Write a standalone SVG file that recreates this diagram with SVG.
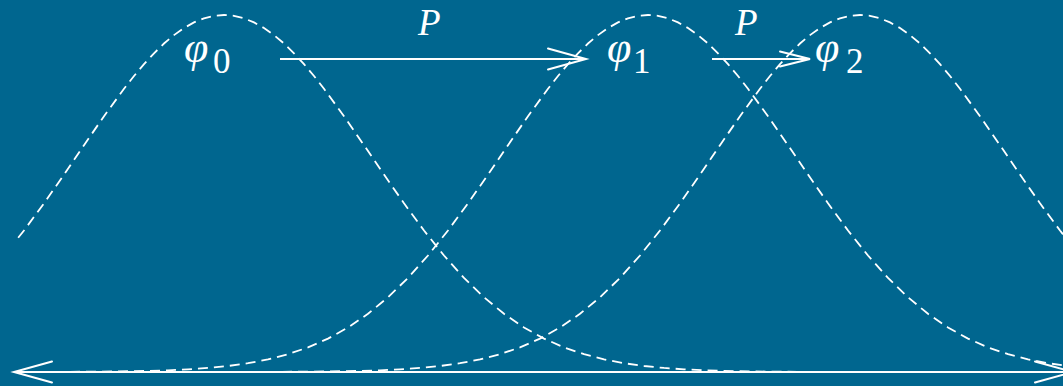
<svg xmlns="http://www.w3.org/2000/svg" width="1063" height="386" viewBox="0 0 1063 386">
<style>
.curve{fill:none;stroke:#fff;stroke-width:1.8;stroke-dasharray:10 6}
.arrow{fill:none;stroke:#fff;stroke-width:2}
.head{fill:none;stroke:#fff;stroke-width:2;stroke-linecap:round;stroke-linejoin:miter}
.it{font-family:"Liberation Serif",serif;font-style:italic;fill:#fff}
.num{font-family:"Liberation Serif",serif;fill:#fff}
</style>
<defs>
<path id="gauss" d="M-850,372 L-600,371.9 L-550,371.7 L-500,370.9 L-480,370.3 L-460,369.3 L-440,367.95 L-420,366 L-400,363.2 L-380,359.4 L-360,354.2 L-340,347.4 L-320,338.6 L-300,327.5 L-280,313.8 L-260,297.3 L-240,277.9 L-220,255.5 L-200,230.5 L-180,203.3 L-160,174.6 L-140,145.2 L-120,116.2 L-100,88.8 L-90,76 L-80,64.1 L-70,53.3 L-60,43.5 L-50,35.1 L-40,28 L-30,22.4 L-20,18.3 L-10,15.8 L0,15 L10,15.8 L20,18.3 L30,22.4 L40,28 L50,35.1 L60,43.5 L70,53.3 L80,64.1 L90,76 L100,88.8 L120,116.2 L140,145.2 L160,174.6 L180,203.3 L200,230.5 L220,255.5 L240,277.9 L260,297.3 L280,313.8 L300,327.5 L320,338.6 L340,347.4 L360,354.2 L380,359.4 L400,363.2 L420,366 L440,367.95 L460,369.3 L480,370.3 L500,370.9 L550,371.7 L600,371.9 L850,372"/>
<clipPath id="dom"><rect x="16" y="0" width="1047" height="386"/></clipPath>
<marker id="ah" markerUnits="userSpaceOnUse" markerWidth="44" markerHeight="26" refX="40" refY="12" orient="auto-start-reverse" viewBox="0 0 44 26">
<path class="head" d="M2,1.5 L40,12 L2,22.5"/>
</marker>
<marker id="ahs" markerUnits="userSpaceOnUse" markerWidth="36" markerHeight="22" refX="32" refY="10" orient="auto" viewBox="0 0 36 22">
<path class="head" d="M2,2.5 L32,10 L2,17.5"/>
</marker>
</defs>
<rect width="1063" height="386" fill="#00668F"/>
<g id="curves" clip-path="url(#dom)">
<use href="#gauss" class="curve" transform="translate(224,0)"/>
<use href="#gauss" class="curve" transform="translate(648,0)"/>
<use href="#gauss" class="curve" transform="translate(860,0)"/>
</g>
<g id="connectors">
<line class="arrow" x1="280" y1="59" x2="586" y2="59" marker-end="url(#ah)"/>
<line class="arrow" x1="712" y1="59" x2="810" y2="59" marker-end="url(#ahs)"/>
<line class="arrow" x1="14" y1="372" x2="1073" y2="372" marker-start="url(#ah)" marker-end="url(#ah)"/>
</g>
<g id="phi0"><text class="it" x="184" y="62" font-size="44">φ</text><text class="num" x="213" y="73" font-size="35">0</text></g>
<g id="phi1"><text class="it" x="607" y="62" font-size="44">φ</text><text class="num" x="633" y="73" font-size="35">1</text></g>
<g id="phi2"><text class="it" x="815" y="62" font-size="44">φ</text><text class="num" x="846" y="73" font-size="35">2</text></g>
<g id="labelP1"><text class="it" x="418" y="35" font-size="37">P</text></g>
<g id="labelP2"><text class="it" x="735" y="35" font-size="37">P</text></g>
</svg>
